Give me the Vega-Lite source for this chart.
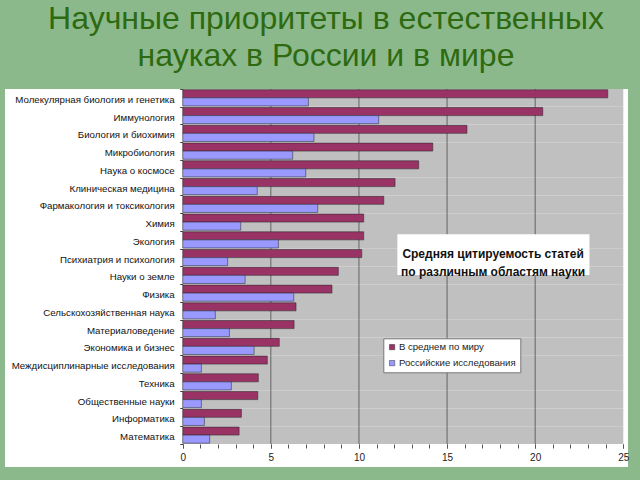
{
  "$schema": "https://vega.github.io/schema/vega-lite/v6.json",
  "width": 623,
  "height": 378,
  "autosize": {"type": "none"},
  "padding": {"left": 5, "top": 89, "right": 12, "bottom": 13},
  "background": "#8cb98c",
  "title": {
    "text": ["Научные приоритеты в естественных", "науках в России и в мире"],
    "font": "Liberation Sans",
    "fontSize": 32,
    "fontWeight": "normal",
    "color": "#2e6a10",
    "lineHeight": 37,
    "anchor": "middle",
    "dx": 9.5,
    "offset": 11
  },
  "config": {
    "view": {"fill": "white", "stroke": null},
    "font": "Liberation Sans",
    "axis": {"labelFont": "Liberation Sans"},
    "legend": {"labelFont": "Liberation Sans"}
  },
  "resolve": {"axis": {"x": "independent"}},
  "data": {
    "values": [
      {"field": "Молекулярная биология и генетика", "series": "В среднем по миру", "value": 24.12},
      {"field": "Молекулярная биология и генетика", "series": "Российские исследования", "value": 7.13},
      {"field": "Иммунология", "series": "В среднем по миру", "value": 20.43},
      {"field": "Иммунология", "series": "Российские исследования", "value": 11.12},
      {"field": "Биология и биохимия", "series": "В среднем по миру", "value": 16.13},
      {"field": "Биология и биохимия", "series": "Российские исследования", "value": 7.45},
      {"field": "Микробиология", "series": "В среднем по миру", "value": 14.19},
      {"field": "Микробиология", "series": "Российские исследования", "value": 6.24},
      {"field": "Наука о космосе", "series": "В среднем по миру", "value": 13.39},
      {"field": "Наука о космосе", "series": "Российские исследования", "value": 6.98},
      {"field": "Клиническая медицина", "series": "В среднем по миру", "value": 12.05},
      {"field": "Клиническая медицина", "series": "Российские исследования", "value": 4.23},
      {"field": "Фармакология и токсикология", "series": "В среднем по миру", "value": 11.41},
      {"field": "Фармакология и токсикология", "series": "Российские исследования", "value": 7.66},
      {"field": "Химия", "series": "В среднем по миру", "value": 10.27},
      {"field": "Химия", "series": "Российские исследования", "value": 3.29},
      {"field": "Экология", "series": "В среднем по миру", "value": 10.27},
      {"field": "Экология", "series": "Российские исследования", "value": 5.43},
      {"field": "Психиатрия и психология", "series": "В среднем по миру", "value": 10.16},
      {"field": "Психиатрия и психология", "series": "Российские исследования", "value": 2.55},
      {"field": "Науки о земле", "series": "В среднем по миру", "value": 8.83},
      {"field": "Науки о земле", "series": "Российские исследования", "value": 3.54},
      {"field": "Физика", "series": "В среднем по миру", "value": 8.47},
      {"field": "Физика", "series": "Российские исследования", "value": 6.30},
      {"field": "Сельскохозяйственная наука", "series": "В среднем по миру", "value": 6.43},
      {"field": "Сельскохозяйственная наука", "series": "Российские исследования", "value": 1.85},
      {"field": "Материаловедение", "series": "В среднем по миру", "value": 6.32},
      {"field": "Материаловедение", "series": "Российские исследования", "value": 2.65},
      {"field": "Экономика и бизнес", "series": "В среднем по миру", "value": 5.48},
      {"field": "Экономика и бизнес", "series": "Российские исследования", "value": 4.05},
      {"field": "Междисциплинарные исследования", "series": "В среднем по миру", "value": 4.80},
      {"field": "Междисциплинарные исследования", "series": "Российские исследования", "value": 1.06},
      {"field": "Техника", "series": "В среднем по миру", "value": 4.29},
      {"field": "Техника", "series": "Российские исследования", "value": 2.76},
      {"field": "Общественные науки", "series": "В среднем по миру", "value": 4.26},
      {"field": "Общественные науки", "series": "Российские исследования", "value": 1.06},
      {"field": "Информатика", "series": "В среднем по миру", "value": 3.33},
      {"field": "Информатика", "series": "Российские исследования", "value": 1.23},
      {"field": "Математика", "series": "В среднем по миру", "value": 3.20},
      {"field": "Математика", "series": "Российские исследования", "value": 1.53}
    ]
  },
  "layer": [
    {
      "transform": [{"filter": "datum.series === 'В среднем по миру'"}],
      "mark": {"type": "rect", "fill": "#c0c0c0"},
      "encoding": {
        "x": {
          "datum": 0,
          "type": "quantitative",
          "scale": {"domain": [-10.085, 25.267], "nice": false, "zero": false},
          "axis": {
            "orient": "bottom",
            "title": null,
            "values": [0, 5, 10, 15, 20, 25],
            "offset": -23,
            "domain": false,
            "grid": false,
            "tickSize": 4,
            "tickColor": "#555555",
            "labelFontSize": 10,
            "labelColor": "#222222",
            "labelPadding": 4,
            "labelOverlap": false,
            "labelFlush": false
          }
        },
        "x2": {"datum": 25},
        "y": {
          "field": "field",
          "type": "nominal",
          "sort": null,
          "scale": {"paddingInner": 0, "paddingOuter": 0.648, "align": 0, "round": false},
          "axis": {
            "title": null,
            "offset": -177.7,
            "domain": false,
            "grid": false,
            "ticks": true,
            "tickBand": "extent",
            "tickSize": 3,
            "tickColor": "#444444",
            "labelPadding": 5.5,
            "labelFontSize": 9.7,
            "labelColor": "#111111",
            "labelLimit": 0,
            "labelOffset": 1.5
          }
        }
      }
    },
    {
      "transform": [{"filter": "datum.series === 'В среднем по миру'"}],
      "mark": {"type": "tick", "color": "#3c3c3c", "thickness": 1, "size": 17.8},
      "encoding": {"x": {"datum": 5, "axis": null}, "y": {"field": "field", "type": "nominal", "sort": null}}
    },
    {
      "transform": [{"filter": "datum.series === 'В среднем по миру'"}],
      "mark": {"type": "tick", "color": "#3c3c3c", "thickness": 1, "size": 17.8},
      "encoding": {"x": {"datum": 10, "axis": null}, "y": {"field": "field", "type": "nominal", "sort": null}}
    },
    {
      "transform": [{"filter": "datum.series === 'В среднем по миру'"}],
      "mark": {"type": "tick", "color": "#3c3c3c", "thickness": 1, "size": 17.8},
      "encoding": {"x": {"datum": 15, "axis": null}, "y": {"field": "field", "type": "nominal", "sort": null}}
    },
    {
      "transform": [{"filter": "datum.series === 'В среднем по миру'"}],
      "mark": {"type": "tick", "color": "#3c3c3c", "thickness": 1, "size": 17.8},
      "encoding": {"x": {"datum": 20, "axis": null}, "y": {"field": "field", "type": "nominal", "sort": null}}
    },
    {
      "mark": {"type": "bar", "stroke": "#222222", "strokeWidth": 0.5},
      "encoding": {
        "x": {
          "field": "value",
          "type": "quantitative",
          "axis": {
            "orient": "bottom",
            "title": null,
            "values": [0, 1, 2, 3, 4, 5, 6, 7, 8, 9, 10, 11, 12, 13, 14, 15, 16, 17, 18, 19, 20, 21, 22, 23, 24, 25],
            "labels": false,
            "offset": -23,
            "domain": false,
            "grid": false,
            "tickSize": 4,
            "tickColor": "#555555"
          }
        },
        "y": {"field": "field", "type": "nominal", "sort": null},
        "yOffset": {"field": "series", "type": "nominal", "scale": {"paddingInner": 0, "paddingOuter": 0.1}},
        "color": {
          "field": "series",
          "type": "nominal",
          "scale": {"domain": ["В среднем по миру", "Российские исследования"], "range": ["#993366", "#9999ff"]},
          "legend": {
            "orient": "none",
            "legendX": 378.3,
            "legendY": 249.3,
            "title": null,
            "fillColor": "white",
            "strokeColor": "#777777",
            "padding": 4,
            "symbolType": "square",
            "symbolSize": 28,
            "symbolStrokeColor": "#333333",
            "symbolStrokeWidth": 0.5,
            "labelFontSize": 9.6,
            "labelColor": "#222222",
            "labelOffset": 2,
            "rowPadding": 5
          }
        }
      }
    },
    {
      "data": {"values": [{"note": "box"}]},
      "mark": {"type": "rect", "fill": "white"},
      "encoding": {
        "x": {"datum": 12.18, "axis": null},
        "x2": {"datum": 23.08},
        "y": {"datum": "Экология", "bandPosition": 0.18},
        "y2": {"datum": "Науки о земле", "bandPosition": 0.48}
      }
    },
    {
      "data": {"values": [{"note": "box"}]},
      "mark": {
        "type": "text",
        "text": ["Средняя цитируемость статей", "по различным областям науки"],
        "font": "Liberation Sans",
        "fontWeight": "bold",
        "fontSize": 12,
        "lineHeight": 17.7,
        "align": "center",
        "baseline": "middle",
        "color": "#111111"
      },
      "encoding": {
        "x": {"datum": 17.61, "axis": null},
        "y": {"datum": "Психиатрия и психология", "bandPosition": 0.29}
      }
    }
  ]
}
